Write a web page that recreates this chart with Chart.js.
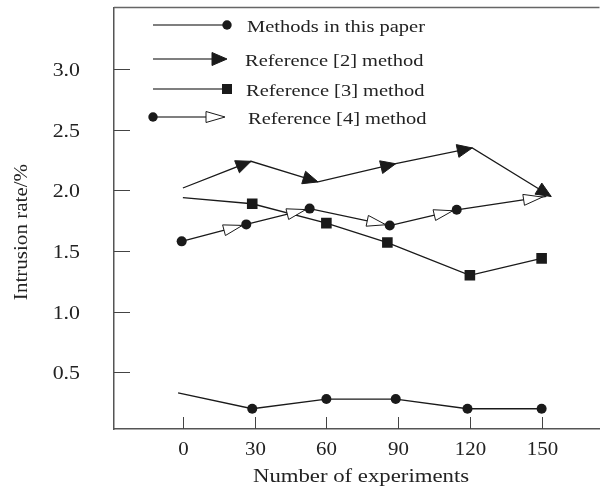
<!DOCTYPE html>
<html>
<head>
<meta charset="utf-8">
<script src="https://cdn.jsdelivr.net/npm/chart.js@4.4.1/dist/chart.umd.min.js"></script>
<style>
  html, body { margin: 0; padding: 0; background: #fff; }
  #wrap { width: 607px; height: 490px; }
</style>
</head>
<body>
<div id="wrap"><canvas id="intrusionChart"></canvas></div>
<script>
const seriesNames = ['Methods in this paper', 'Reference [2] method', 'Reference [3] method', 'Reference [4] method'];
const xTicks = [0, 30, 60, 90, 120, 150];
const yTicks = [0.5, 1.0, 1.5, 2.0, 2.5, 3.0];
const yTickLabels = ['0.5', '1.0', '1.5', '2.0', '2.5', '3.0'];

// number of experiments / intrusion rate
const oursX = [-2, 29, 60, 89, 119, 150];
const oursY = [0.33, 0.20, 0.28, 0.28, 0.20, 0.20];
const ref2X = [0, 28.5, 56.5, 89, 121, 154];
const ref2Y = [2.02, 2.24, 2.07, 2.22, 2.35, 1.95];
const ref3X = [0, 29, 60, 85.5, 120, 150];
const ref3Y = [1.94, 1.89, 1.73, 1.57, 1.30, 1.44];
const ref4X = [-0.5, 26.5, 53, 86.5, 114.5, 152];
const ref4Y = [1.58, 1.72, 1.85, 1.71, 1.84, 1.95];

const INK = '#1a1a1a';
const FONT = '"Liberation Serif", "Times New Roman", serif';

function toPoints(xs, ys) {
  return xs.map((x, i) => ({ x: x, y: ys[i] }));
}

// text in the figure is drawn wide, so stretch it along its direction
function wideText(ctx, text, x, y, size, sx, align, rotate) {
  ctx.save();
  ctx.translate(x, y);
  if (rotate) ctx.rotate(rotate);
  ctx.scale(sx, 1);
  ctx.font = size + 'px ' + FONT;
  ctx.textAlign = align || 'left';
  ctx.textBaseline = 'alphabetic';
  ctx.fillStyle = '#222';
  ctx.fillText(text, 0, 0);
  ctx.restore();
}

function arrowHead(ctx, ax, ay, bx, by, back, len, half, filled) {
  const d = Math.hypot(bx - ax, by - ay);
  const ux = (bx - ax) / d, uy = (by - ay) / d;
  const tx = bx - ux * back, ty = by - uy * back;
  const cx = tx - ux * len, cy = ty - uy * len;
  ctx.beginPath();
  ctx.moveTo(tx, ty);
  ctx.lineTo(cx - uy * half, cy + ux * half);
  ctx.lineTo(cx + uy * half, cy - ux * half);
  ctx.closePath();
  ctx.fillStyle = filled ? INK : '#fff';
  ctx.fill();
  ctx.lineWidth = 1;
  ctx.strokeStyle = INK;
  ctx.stroke();
}

const decorPlugin = {
  id: 'decor',
  afterDatasetsDraw(chart) {
    const ctx = chart.ctx;
    ctx.save();
    const m4 = chart.getDatasetMeta(3).data;
    for (let i = 1; i < m4.length; i++) {
      arrowHead(ctx, m4[i - 1].x, m4[i - 1].y, m4[i].x, m4[i].y, 4, 19, 5.5, false);
    }
    const m2 = chart.getDatasetMeta(1).data;
    for (let i = 1; i < m2.length; i++) {
      arrowHead(ctx, m2[i - 1].x, m2[i - 1].y, m2[i].x, m2[i].y, 0, 15, 6.5, true);
    }
    ctx.restore();
  },
  afterDraw(chart) {
    const ctx = chart.ctx;
    const area = chart.chartArea;
    const xs = chart.scales.x, ys = chart.scales.y;
    ctx.save();

    // top frame line
    ctx.strokeStyle = '#666';
    ctx.lineWidth = 1.5;
    ctx.beginPath();
    ctx.moveTo(area.left, area.top);
    ctx.lineTo(area.right, area.top);
    ctx.stroke();

    // inward tick marks
    ctx.strokeStyle = '#444';
    ctx.lineWidth = 1;
    xTicks.forEach(v => {
      const px = Math.round(xs.getPixelForValue(v)) + 0.5;
      ctx.beginPath();
      ctx.moveTo(px, area.bottom);
      ctx.lineTo(px, area.bottom - 12);
      ctx.stroke();
      wideText(ctx, String(v), px, 455, 19, 1.1, 'center');
    });
    yTicks.forEach((v, i) => {
      const py = Math.round(ys.getPixelForValue(v)) + 0.5;
      ctx.beginPath();
      ctx.moveTo(area.left, py);
      ctx.lineTo(area.left + 16, py);
      ctx.stroke();
      wideText(ctx, yTickLabels[i], 80, py + 6.5, 19, 1.15, 'right');
    });

    // axis titles
    wideText(ctx, 'Number of experiments', 361, 482, 18.5, 1.23, 'center');
    wideText(ctx, 'Intrusion rate/%', 27, 232, 18, 1.17, 'center', -Math.PI / 2);

    // legend
    const rows = [25, 59, 89, 117];
    const textX = [247, 245, 246, 248];
    ctx.strokeStyle = '#555';
    ctx.lineWidth = 1.5;
    ctx.fillStyle = INK;
    // Methods in this paper
    ctx.beginPath(); ctx.moveTo(153, rows[0]); ctx.lineTo(227, rows[0]); ctx.stroke();
    ctx.beginPath(); ctx.arc(227, rows[0], 4.7, 0, Math.PI * 2); ctx.fill();
    // Reference [2]
    ctx.beginPath(); ctx.moveTo(153, rows[1]); ctx.lineTo(214, rows[1]); ctx.stroke();
    arrowHead(ctx, 153, rows[1], 227, rows[1], 0, 15, 6.5, true);
    // Reference [3]
    ctx.strokeStyle = '#555'; ctx.lineWidth = 1.5;
    ctx.beginPath(); ctx.moveTo(153, rows[2]); ctx.lineTo(222, rows[2]); ctx.stroke();
    ctx.fillStyle = INK;
    ctx.fillRect(222, rows[2] - 5, 10, 10);
    // Reference [4]
    ctx.beginPath(); ctx.moveTo(153, rows[3]); ctx.lineTo(206, rows[3]); ctx.stroke();
    ctx.beginPath(); ctx.arc(153, rows[3], 4.7, 0, Math.PI * 2); ctx.fill();
    arrowHead(ctx, 153, rows[3], 225, rows[3], 0, 19, 5.5, false);

    seriesNames.forEach((name, i) => {
      wideText(ctx, name, textX[i], rows[i] + 6.5, 17.5, 1.17, 'left');
    });

    ctx.restore();
  }
};

const baseLine = {
  borderColor: INK,
  borderWidth: 1.3,
  pointBackgroundColor: INK,
  pointBorderColor: INK,
  pointBorderWidth: 0,
  tension: 0,
  fill: false
};

new Chart(document.getElementById('intrusionChart'), {
  type: 'line',
  data: {
    datasets: [
      Object.assign({}, baseLine, {
        label: seriesNames[0],
        data: toPoints(oursX, oursY),
        pointStyle: 'circle',
        pointRadius: oursX.map((v, i) => i === 0 ? 0 : 5)
      }),
      Object.assign({}, baseLine, {
        label: seriesNames[1],
        data: toPoints(ref2X, ref2Y),
        pointRadius: 0
      }),
      Object.assign({}, baseLine, {
        label: seriesNames[2],
        data: toPoints(ref3X, ref3Y),
        pointStyle: 'rect',
        pointRadius: ref3X.map((v, i) => i === 0 ? 0 : 7.5)
      }),
      Object.assign({}, baseLine, {
        label: seriesNames[3],
        data: toPoints(ref4X, ref4Y),
        pointStyle: 'circle',
        pointRadius: ref4X.map((v, i) => i === ref4X.length - 1 ? 0 : 5)
      })
    ]
  },
  options: {
    responsive: true,
    maintainAspectRatio: false,
    animation: false,
    layout: { padding: { left: 114, right: 0, top: 5, bottom: 61 } },
    plugins: {
      legend: { display: false },
      tooltip: { enabled: false },
      title: { display: false }
    },
    scales: {
      x: {
        type: 'linear',
        min: -28.8,
        max: 174.2,
        ticks: { display: false },
        grid: { display: false, drawTicks: false },
        border: { display: true, color: '#555', width: 1.5 }
      },
      y: {
        type: 'linear',
        min: 0.033,
        max: 3.508,
        ticks: { display: false },
        grid: { display: false, drawTicks: false },
        border: { display: true, color: '#555', width: 1.5 }
      }
    }
  },
  plugins: [decorPlugin]
});
</script>
</body>
</html>
